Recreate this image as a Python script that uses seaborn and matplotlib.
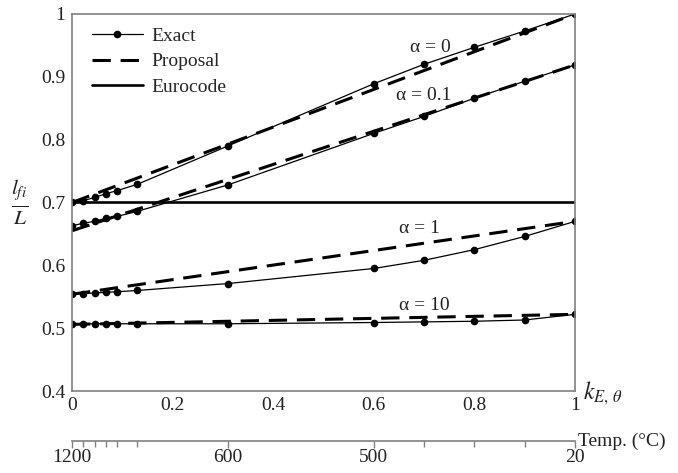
import numpy as np
import pandas as pd
import matplotlib
matplotlib.use("Agg")
import matplotlib.pyplot as plt
import seaborn as sns
from matplotlib.ticker import FuncFormatter

# ---- data ----
kE = [0.0, 0.0225, 0.045, 0.0675, 0.09, 0.13, 0.31, 0.6, 0.7, 0.8, 0.9, 1.0]
exact_a0 = [0.700, 0.703, 0.708, 0.714, 0.719, 0.729, 0.790, 0.889, 0.920, 0.947, 0.973, 1.000]
exact_a01 = [0.663, 0.667, 0.670, 0.675, 0.678, 0.686, 0.728, 0.810, 0.837, 0.866, 0.893, 0.919]
exact_a1 = [0.554, 0.555, 0.556, 0.557, 0.558, 0.560, 0.571, 0.595, 0.608, 0.625, 0.646, 0.670]
exact_a10 = [0.506, 0.507, 0.507, 0.507, 0.507, 0.507, 0.507, 0.509, 0.510, 0.511, 0.513, 0.522]

prop_x = [0.0, 1.0]
prop_a0 = [0.700, 1.000]
prop_a01 = [0.655, 0.919]
prop_a1 = [0.554, 0.670]
prop_a10 = [0.506, 0.522]

euro_x = [0.0, 1.0]
euro_y = [0.70, 0.70]

alpha_labels = ["α = 0", "α = 0.1", "α = 1", "α = 10"]
alpha_label_x = [0.712, 0.700, 0.690, 0.700]
alpha_label_y = [0.947, 0.871, 0.659, 0.536]

x_ticks = [0, 0.2, 0.4, 0.6, 0.8, 1.0]
y_ticks = [0.4, 0.5, 0.6, 0.7, 0.8, 0.9, 1.0]

temp_major_pos = [0.0, 0.31, 0.6, 1.0]
temp_major_lab = ["1200", "600", "500", "20"]
temp_minor_pos = [0.0225, 0.045, 0.0675, 0.09, 0.13, 0.7, 0.8, 0.9]

# ---- style ----
sns.set_theme(style="white")
plt.rcParams["font.family"] = ["Liberation Serif", "DejaVu Serif"]
plt.rcParams["mathtext.fontset"] = "stix"

fig = plt.figure(figsize=(6.78, 4.73), dpi=100)
ax = fig.add_axes([72 / 678, 1 - 391 / 473, 503 / 678, 377 / 473])

spine_col = "#808080"
lw_dash = 2.2

exact_sets = [exact_a0, exact_a01, exact_a1, exact_a10]
prop_sets = [prop_a0, prop_a01, prop_a1, prop_a10]

for i, (ey, py) in enumerate(zip(exact_sets, prop_sets)):
    sns.lineplot(x=prop_x, y=py, ax=ax, color="black", lw=lw_dash,
                 linestyle=(0, (6, 3.2)), label="Proposal" if i == 0 else None,
                 legend=False)
    sns.lineplot(x=kE, y=ey, ax=ax, color="black", lw=0.9, marker="o",
                 markersize=5.5, markeredgewidth=0, label="Exact" if i == 0 else None,
                 legend=False)

sns.lineplot(x=euro_x, y=euro_y, ax=ax, color="black", lw=1.9, label="Eurocode",
             legend=False)

for t, tx, ty in zip(alpha_labels, alpha_label_x, alpha_label_y):
    ax.text(tx, ty, t, fontsize=14, ha="center", va="center", color="#222222")

ax.set_xlim(0, 1)
ax.set_ylim(0.4, 1.0)
ax.set_xticks(x_ticks)
ax.set_yticks(y_ticks)
fmt = FuncFormatter(lambda v, p: f"{v:g}")
ax.xaxis.set_major_formatter(fmt)
ax.yaxis.set_major_formatter(fmt)
ax.tick_params(axis="both", labelsize=14, colors="#222222", direction="out",
               length=4, width=1, color=spine_col, pad=1)
ax.tick_params(axis="x", pad=0)
for s in ax.spines.values():
    s.set_color(spine_col)
    s.set_linewidth(1.2)
ax.set_xlabel("")
ax.set_ylabel("")

# y label as fraction
ax.text(-0.105, 0.5, r"$\frac{l_{fi}}{L}$", transform=ax.transAxes, fontsize=22,
        ha="center", va="center", color="#222222")
# x label
ax.text(1.015, -0.005, r"$k_{E,\,\theta}$", transform=ax.transAxes, fontsize=17,
        ha="left", va="center", color="#222222")

# legend
h, l = ax.get_legend_handles_labels()
order = [l.index("Exact"), l.index("Proposal"), l.index("Eurocode")]
leg = ax.legend([h[o] for o in order], [l[o] for o in order], loc="upper left",
                frameon=False, fontsize=14, handlelength=2.6, handletextpad=0.45,
                labelspacing=0.42, borderaxespad=0, borderpad=0,
                bbox_to_anchor=(20 / 503, 1 - 13 / 377))

# temperature axis
sec = ax.secondary_xaxis(-50 / 377)
sec.set_xticks(temp_major_pos)
sec.set_xticklabels(temp_major_lab)
sec.set_xticks(temp_minor_pos, minor=True)
sec.tick_params(axis="x", which="major", labelsize=14, colors="#222222",
                direction="out", length=5, width=1, color=spine_col, pad=1)
sec.tick_params(axis="x", which="minor", direction="out", length=4, width=1,
                color=spine_col)
sec.spines["bottom"].set_color(spine_col)
sec.spines["bottom"].set_linewidth(1.2)
ax.text(1.005, -50 / 377, "Temp. (°C)", transform=ax.transAxes, fontsize=14,
        ha="left", va="center", color="#222222")

fig.savefig("out.png", dpi=100)
